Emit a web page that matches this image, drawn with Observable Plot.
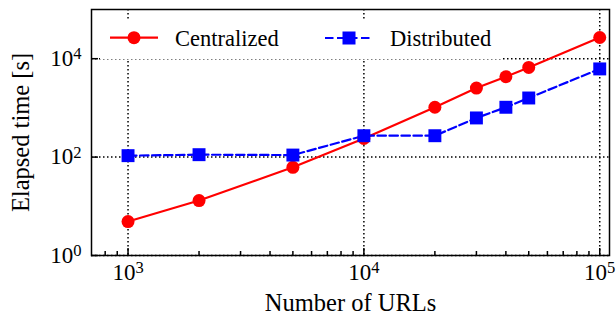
<!DOCTYPE html>
<html><head><meta charset="utf-8">
<script src="https://cdn.jsdelivr.net/npm/d3@7"></script>
<script src="https://cdn.jsdelivr.net/npm/@observablehq/plot@0.6"></script>
<style>
body{margin:0;background:#fff;}
#wrap{position:relative;width:616px;height:316px;font-family:"Liberation Serif","Times New Roman",serif;}
#legend{position:absolute;left:100px;top:19px;width:401px;height:40px;background:#fff;}
#legend svg{display:block;}
</style></head><body><div id="wrap"></div>
<script>
const urls = [1000, 2000, 5000, 10000, 20000, 30000, 40000, 50000, 100000];
const centralized = [4.9, 13.1, 62, 240, 1030, 2530, 4300, 6650, 27000];
const distributed = [107, 112, 110, 272, 272, 625, 1030, 1590, 6200];
const seriesNames = ["Centralized", "Distributed"];
const xMajorTicks = [1000, 10000, 100000];
const xTickLabels = ["10^3", "10^4", "10^5"];
const xMinorTicks = [800, 900, 2000, 3000, 4000, 5000, 6000, 7000, 8000, 9000,
  20000, 30000, 40000, 50000, 60000, 70000, 80000, 90000];
const yMajorTicks = [1, 100, 10000];
const yTickLabels = ["10^0", "10^2", "10^4"];
const xLabel = "Number of URLs";
const yLabel = "Elapsed time [s]";

const cRows = urls.map((x, i) => ({x, y: centralized[i], series: seriesNames[0]}));
const dRows = urls.map((x, i) => ({x, y: distributed[i], series: seriesNames[1]}));

const RED = "#ff0000", BLUE = "#0000ff";
const FONT = '"Liberation Serif", "Times New Roman", serif';
const DASH = "8.5,3.5";
const grid = {stroke: "black", strokeWidth: 1.5, strokeDasharray: "1.5,2.5"};

const chart = Plot.plot({
  width: 616, height: 316,
  marginLeft: 91, marginRight: 7, marginTop: 9, marginBottom: 61,
  style: {fontFamily: FONT, fontSize: "23px", color: "black", background: "white", overflow: "visible"},
  x: {type: "log", domain: [700, 110000], label: null},
  y: {type: "log", domain: [1, 100000], label: null},
  marks: [
    Plot.ruleX(xMajorTicks, grid),
    Plot.ruleY(yMajorTicks, grid),
    Plot.line(cRows, {x: "x", y: "y", stroke: RED, strokeWidth: 2.2}),
    Plot.line(dRows, {x: "x", y: "y", stroke: BLUE, strokeWidth: 2.2, strokeDasharray: DASH}),
    Plot.dot(cRows, {x: "x", y: "y", r: 6.5, fill: RED, symbol: "circle"}),
    Plot.dot(dRows, {x: "x", y: "y", r: 7.3, fill: BLUE, symbol: "square"}),
    Plot.frame({stroke: "black", strokeWidth: 1.5}),
    Plot.axisX(xMinorTicks, {tickSize: -4, tickFormat: () => "", strokeWidth: 1.5, label: null}),
    Plot.axisX(xMajorTicks, {tickSize: -7, tickFormat: () => "", strokeWidth: 1.5, label: null}),
    Plot.axisX(xMajorTicks, {tickSize: 0, tickPadding: 8, fontSize: 23, label: null,
      tickFormat: d => xTickLabels[xMajorTicks.indexOf(d)]}),
    Plot.axisY(yMajorTicks, {tickSize: -7, tickFormat: () => "", strokeWidth: 1.5, label: null}),
    Plot.axisY(yMajorTicks, {tickSize: 0, tickPadding: 10, fontSize: 23, label: null,
      tickFormat: d => yTickLabels[yMajorTicks.indexOf(d)]}),
    Plot.text([xLabel], {text: d => d, frameAnchor: "bottom", dy: 48, lineAnchor: "middle", textAnchor: "middle", fontSize: 24.5}),
    Plot.text([yLabel], {text: d => d, frameAnchor: "left", dx: -70, rotate: -90, lineAnchor: "middle", textAnchor: "middle", fontSize: 24.5})
  ]
});

// superscripts for exponent labels
const NS = "http://www.w3.org/2000/svg";
chart.querySelectorAll("text").forEach(t => {
  const m = /^(\d+)\^(\d+)$/.exec(t.textContent);
  if (m) {
    t.textContent = m[1];
    const ts = document.createElementNS(NS, "tspan");
    ts.setAttribute("dy", "-0.42em");
    ts.setAttribute("font-size", "0.72em");
    ts.textContent = m[2];
    t.appendChild(ts);
  }
});

const wrap = document.getElementById("wrap");
wrap.appendChild(chart);

// legend
const leg = document.createElement("div");
leg.id = "legend";
leg.innerHTML = `<svg width="401" height="40" style='font-family: ${FONT}; font-size: 22.5px;'>
  <line x1="10" x2="58" y1="18.7" y2="18.7" stroke="${RED}" stroke-width="2.2"/>
  <circle cx="34" cy="18.7" r="6.5" fill="${RED}"/>
  <text x="75" y="27">${seriesNames[0]}</text>
  <line x1="225" x2="273" y1="19" y2="19" stroke="${BLUE}" stroke-width="2.2" stroke-dasharray="${DASH}"/>
  <rect x="242.5" y="12.5" width="13" height="13" fill="${BLUE}"/>
  <text x="290" y="27">${seriesNames[1]}</text>
</svg>`;
wrap.appendChild(leg);
</script>
</body></html>
